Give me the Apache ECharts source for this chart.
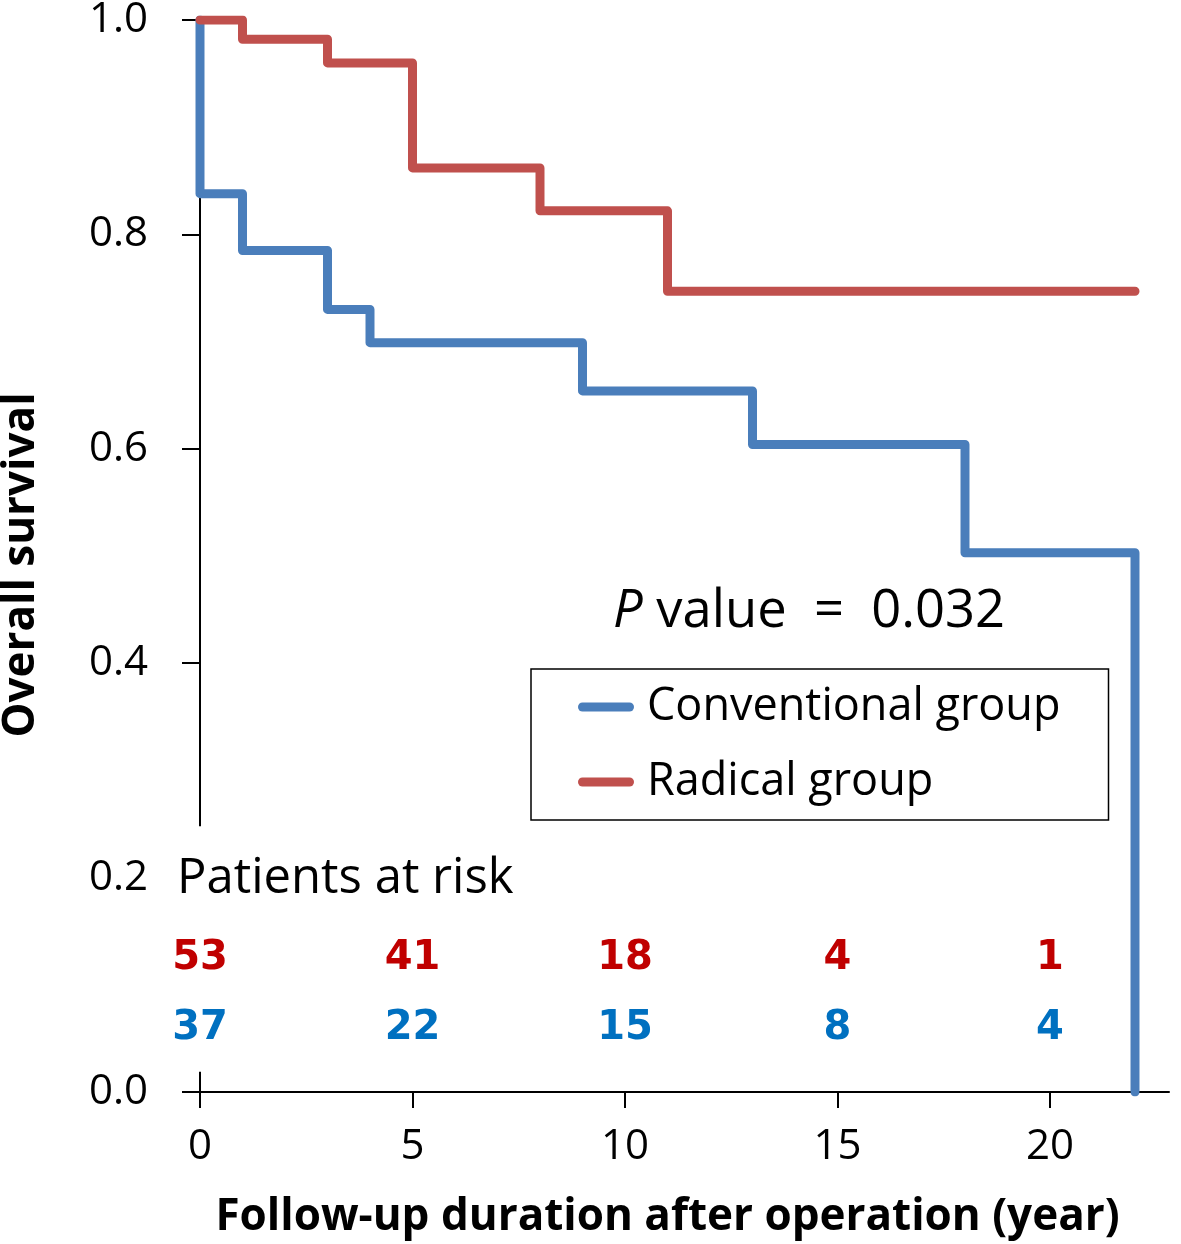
<!DOCTYPE html>
<html>
<head>
<meta charset="utf-8">
<script src="https://cdn.jsdelivr.net/npm/echarts@6.0.0/dist/echarts.min.js"></script>
<style>
html,body{margin:0;padding:0;background:#fff;}
#chart{width:1181px;height:1244px;}
</style>
</head>
<body>
<div id="chart"></div>
<script>
// ---- data ----
const conventionalTime = [0, 0, 1, 3, 4, 9, 13, 18, 22];
const conventionalSurv = [1.0, 0.838, 0.785, 0.730, 0.699, 0.654, 0.604, 0.503, 0.0];
const radicalTime = [0, 1, 3, 5, 8, 11, 22];
const radicalSurv = [1.0, 0.982, 0.960, 0.862, 0.822, 0.747, 0.747];
const riskTimes = [0, 5, 10, 15, 20];
const riskRadical = [53, 41, 18, 4, 1];
const riskConventional = [37, 22, 15, 8, 4];
const xTicks = [0, 5, 10, 15, 20];
const yTickLabels = [0, 0.2, 0.4, 0.6, 0.8, 1.0];
const yTickMarks = [0, 0.4, 0.6, 0.8, 1.0];
const seriesNames = ['Conventional group', 'Radical group'];
const pValueText = '0.032';

// ---- layout / style constants ----
const FONT = "'Open Sans', 'Noto Sans', sans-serif";
const BLUE = '#4A7EBB';
const RED = '#C0504D';
const RISK_RED = '#C00000';
const RISK_BLUE = '#0070C0';
const ROW_Y_RADICAL = 0.124;
const ROW_Y_CONVENTIONAL = 0.059;
const Y_AXIS_SEGMENTS = [[1.0, 0.248], [0, 0.019]];
const X_MAX = 22.8;

const chart = echarts.init(document.getElementById('chart'), null, {renderer: 'canvas'});

const zip = (a, b) => a.map((v, i) => [v, b[i]]);

const riskData = [];
riskTimes.forEach((t, i) => {
  riskData.push({value: [t, ROW_Y_RADICAL, riskRadical[i]], label: {color: RISK_RED}});
  riskData.push({value: [t, ROW_Y_CONVENTIONAL, riskConventional[i]], label: {color: RISK_BLUE}});
});

const option = {
  backgroundColor: '#fff',
  animation: false,
  grid: {left: 200, top: 20, right: 12, bottom: 152, outerBoundsMode: 'none', containLabel: false},
  legend: {
    orient: 'vertical',
    left: 531,
    top: 669,
    padding: [13, 48, 13, 47],
    borderColor: '#000',
    borderWidth: 1.5,
    itemGap: 25,
    itemWidth: 56,
    itemHeight: 9,
    icon: 'path://M4.5,0 L51.5,0 A4.5,4.5 0 0 1 51.5,9 L4.5,9 A4.5,4.5 0 0 1 4.5,0 Z',
    itemStyle: {borderWidth: 0},
    selectedMode: false,
    data: seriesNames,
    textStyle: {fontFamily: FONT, fontSize: 45, color: '#000', lineHeight: 50, padding: [0, 0, 0, 8]}
  },
  xAxis: {
    type: 'value',
    min: 0,
    max: X_MAX,
    name: 'Follow-up duration after operation (year)',
    nameLocation: 'middle',
    nameGap: 103,
    nameTextStyle: {fontFamily: FONT, fontSize: 44, fontWeight: 'bold', color: '#000', padding: [0, 34, 0, 0]},
    axisLine: {show: true, lineStyle: {color: '#000', width: 2}},
    axisTick: {show: true, inside: false, length: 16, customValues: xTicks, lineStyle: {color: '#000', width: 2}},
    axisLabel: {customValues: xTicks, fontFamily: FONT, fontSize: 42, color: '#000', margin: 34},
    splitLine: {show: false}
  },
  yAxis: {
    type: 'value',
    min: 0,
    max: 1,
    interval: 0.2,
    name: 'Overall survival',
    nameLocation: 'middle',
    nameGap: 157,
    nameTextStyle: {fontFamily: FONT, fontSize: 44, fontWeight: 'bold', color: '#000', padding: [0, 18, 0, 0]},
    axisLine: {show: false},
    axisTick: {show: true, inside: false, length: 18, customValues: yTickMarks, lineStyle: {color: '#000', width: 2}},
    axisLabel: {customValues: yTickLabels, formatter: v => v.toFixed(1), fontFamily: FONT, fontSize: 42, color: '#000', margin: 52},
    splitLine: {show: false}
  },
  graphic: [
    {type: 'text', x: 177, y: 879, silent: true,
      style: {text: 'Patients at risk', fontFamily: FONT, fontSize: 49, fill: '#000', verticalAlign: 'middle'}},
    {type: 'text', x: 613, y: 612, silent: true,
      style: {
        text: '{it|P} value  =  ' + pValueText,
        fontFamily: FONT, fontSize: 52.5, fill: '#000', verticalAlign: 'middle',
        rich: {it: {fontFamily: FONT, fontSize: 52.5, fontStyle: 'italic', fill: '#000'}}
      }}
  ],
  series: [
    {
      type: 'scatter',
      name: 'risk',
      data: riskData,
      symbolSize: 1,
      clip: false,
      z: 1,
      itemStyle: {color: 'transparent'},
      label: {show: true, position: 'inside', formatter: p => String(p.value[2]),
        fontFamily: "'DejaVu Sans', Verdana, sans-serif", fontSize: 40, fontWeight: 'bold',
        textBorderWidth: 0, opacity: 1},
      markLine: {
        silent: true,
        symbol: ['none', 'none'],
        z: 1,
        label: {show: false},
        lineStyle: {color: '#000', width: 2, type: 'solid'},
        data: Y_AXIS_SEGMENTS.map(s => [{coord: [0, s[0]]}, {coord: [0, s[1]]}])
      }
    },
    {
      type: 'line',
      name: seriesNames[0],
      step: 'end',
      data: zip(conventionalTime, conventionalSurv),
      symbol: 'none',
      clip: true,
      z: 3,
      color: BLUE,
      lineStyle: {color: BLUE, width: 9, cap: 'round', join: 'round'}
    },
    {
      type: 'line',
      name: seriesNames[1],
      step: 'end',
      data: zip(radicalTime, radicalSurv),
      symbol: 'none',
      clip: true,
      z: 4,
      color: RED,
      lineStyle: {color: RED, width: 9, cap: 'round', join: 'round'}
    }
  ]
};
chart.setOption(option);
</script>
</body>
</html>
